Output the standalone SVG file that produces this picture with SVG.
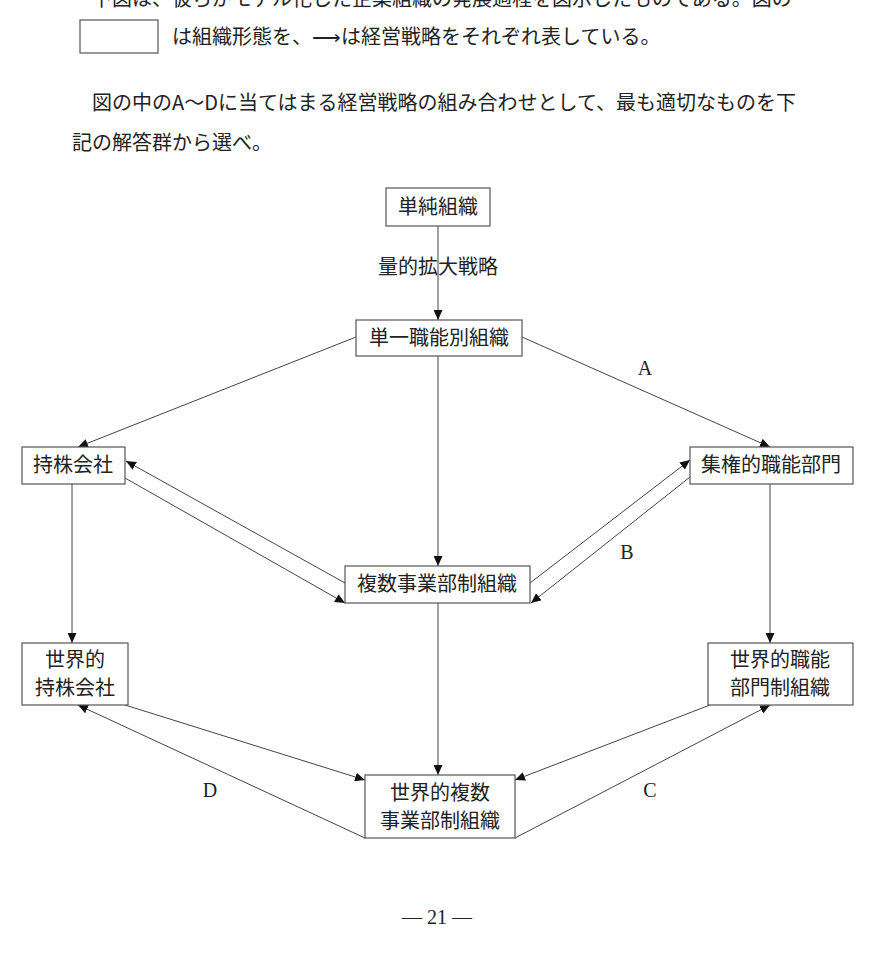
<svg xmlns="http://www.w3.org/2000/svg" width="874" height="958" viewBox="0 0 874 958">
<defs>
<marker id="ah" markerUnits="userSpaceOnUse" markerWidth="11" markerHeight="9" refX="10" refY="4.5" orient="auto">
<path d="M0,0 L10,4.5 L0,9 z" fill="#111"/>
</marker>
<style>
.jp{font-family:"Noto Sans CJK JP","Noto Sans CJK SC",sans-serif;font-size:20px;fill:#222}
.lt{font-family:"Liberation Serif",serif;font-size:20px;fill:#222}
.box{fill:#fff;stroke:#555;stroke-width:1.2}
.c{stroke:#444;stroke-width:1;fill:none;marker-end:url(#ah)}
.m{text-anchor:middle}
</style>
</defs>
<rect width="874" height="958" fill="#fff"/>
<g id="intro">
<text class="jp" x="92" y="6">下図は、彼らがモデル化した企業組織の発展過程を図示したものである。図の</text>
<rect class="box" x="80" y="20" width="78" height="33"/>
<text class="jp" x="172" y="44">は組織形態を、⟶は経営戦略をそれぞれ表している。</text>
<text class="jp" x="92" y="110">図の中のA～Dに当てはまる経営戦略の組み合わせとして、最も適切なものを下</text>
<text class="jp" x="72" y="150">記の解答群から選べ。</text>
</g>
<g id="connectors">
<line class="c" x1="438" y1="226" x2="438" y2="320"/>
<line class="c" x1="356" y1="337" x2="78" y2="447"/>
<line class="c" x1="522" y1="337" x2="770" y2="447"/>
<line class="c" x1="438" y1="356" x2="438" y2="566"/>
<line class="c" x1="72" y1="484" x2="72" y2="643"/>
<line class="c" x1="770" y1="484" x2="770" y2="643"/>
<line class="c" x1="438" y1="603" x2="438" y2="775"/>
<line class="c" x1="345" y1="583" x2="126" y2="461"/>
<line class="c" x1="125" y1="478" x2="345" y2="603"/>
<line class="c" x1="530" y1="583" x2="690" y2="460"/>
<line class="c" x1="690" y1="477" x2="531" y2="603"/>
<line class="c" x1="125" y1="705" x2="365" y2="780"/>
<line class="c" x1="365" y1="838" x2="78" y2="705"/>
<line class="c" x1="710" y1="705" x2="515" y2="780"/>
<line class="c" x1="515" y1="838" x2="770" y2="705"/>
<text class="jp m" x="438" y="274">量的拡大戦略</text>
<text class="lt m" x="645" y="375">A</text>
<text class="lt m" x="627" y="559">B</text>
<text class="lt m" x="650" y="797">C</text>
<text class="lt m" x="210" y="797">D</text>
</g>
<g id="n1"><rect class="box" x="386" y="188" width="104" height="38"/><text class="jp m" x="438" y="214">単純組織</text></g>
<g id="n2"><rect class="box" x="356" y="320" width="166" height="36"/><text class="jp m" x="439" y="345">単一職能別組織</text></g>
<g id="n3"><rect class="box" x="22" y="447" width="103" height="37"/><text class="jp m" x="73" y="472">持株会社</text></g>
<g id="n4"><rect class="box" x="690" y="447" width="163" height="37"/><text class="jp m" x="771" y="472">集権的職能部門</text></g>
<g id="n5"><rect class="box" x="345" y="566" width="185" height="37"/><text class="jp m" x="437" y="591">複数事業部制組織</text></g>
<g id="n6"><rect class="box" x="22" y="643" width="106" height="62"/><text class="jp m" x="75" y="667">世界的</text><text class="jp m" x="75" y="695">持株会社</text></g>
<g id="n7"><rect class="box" x="708" y="643" width="145" height="62"/><text class="jp m" x="780" y="667">世界的職能</text><text class="jp m" x="780" y="695">部門制組織</text></g>
<g id="n8"><rect class="box" x="365" y="775" width="150" height="63"/><text class="jp m" x="440" y="800">世界的複数</text><text class="jp m" x="440" y="828">事業部制組織</text></g>
<text class="lt m" x="437" y="924">— 21 —</text>
</svg>
